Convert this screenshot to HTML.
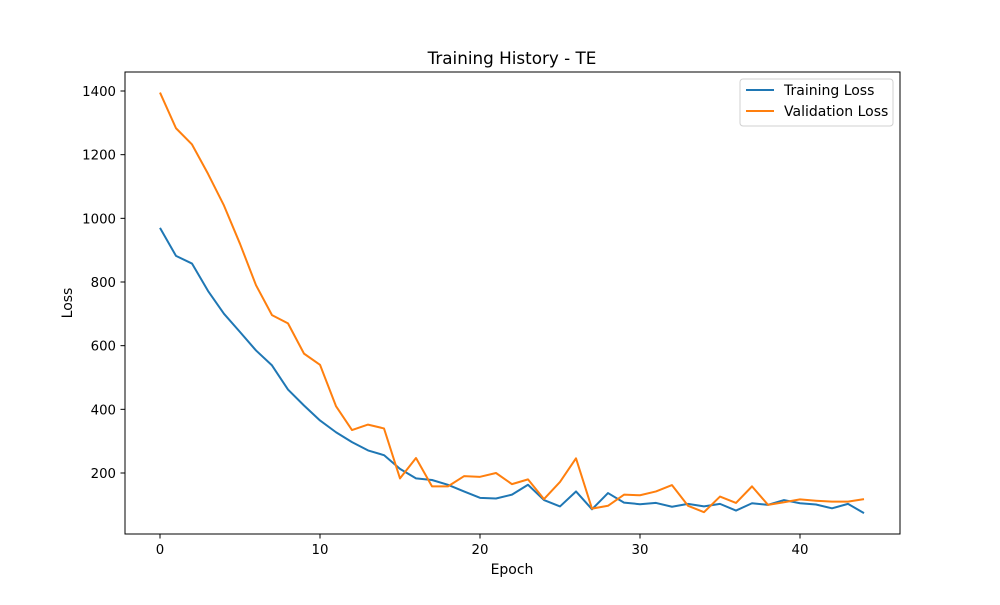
<!DOCTYPE html>
<html><head><meta charset="utf-8"><style>
body{margin:0;background:#fff;}
svg text{font-family:"DejaVu Sans","Liberation Sans",sans-serif;}
</style></head><body>
<svg id="c" width="1000" height="600" xmlns="http://www.w3.org/2000/svg">
<rect width="1000" height="600" fill="#fff"/>
<text x="512" y="64" text-anchor="middle" font-size="16.8">Training History - TE</text>
<text x="512" y="574" text-anchor="middle" font-size="14">Epoch</text>
<text x="72" y="303" text-anchor="middle" font-size="14" transform="rotate(-90 72 303)">Loss</text>
<g id="ticks"></g>
<g id="lines"></g>
<rect x="125" y="72" width="775" height="462" fill="none" stroke="#000" stroke-width="1"/>
<g>
<rect x="740" y="79" width="153" height="47" rx="3" fill="#fff" stroke="#ccc" opacity="0.9"/>
<line x1="746" y1="90" x2="774" y2="90" stroke="#1f77b4" stroke-width="2"/>
<text x="784" y="95" font-size="14">Training Loss</text>
<line x1="746" y1="111" x2="774" y2="111" stroke="#ff7f0e" stroke-width="2"/>
<text x="784" y="116" font-size="14">Validation Loss</text>
</g>
</svg>
<script>
const epochs=[...Array(45).keys()];
const trainLoss=[970,882,858,772,700,643,585,538,462,412,365,328,297,271,256,213,183,178,163,142,122,120,132,163,115,95,142,86,137,107,102,106,94,103,95,103,82,105,100,115,105,101,89,103,74];
const valLoss=[1395,1283,1232,1140,1040,920,790,696,670,575,540,410,335,352,340,183,247,158,158,190,188,200,165,180,118,172,246,88,97,132,130,142,162,97,77,126,106,158,100,108,117,113,110,110,118];
const xTicks=[0,10,20,30,40];
const yTicks=[200,400,600,800,1000,1200,1400];
const xs=v=>160+v*16;
const ys=v=>473-(v-200)*0.31833;
const NS="http://www.w3.org/2000/svg";
const tg=document.getElementById('ticks');
function mk(t,a,p){const e=document.createElementNS(NS,t);for(const k in a)e.setAttribute(k,a[k]);p.appendChild(e);return e;}
xTicks.forEach(t=>{
 const l=mk('line',{x1:xs(t),x2:xs(t),y1:534,y2:538.5,stroke:'#000'},tg);
 
 
 const tx=mk('text',{x:xs(t),y:554,'text-anchor':'middle','font-size':'13.3'},tg);tx.textContent=t;
 
 
});
yTicks.forEach(t=>{
 const l=mk('line',{x1:120.5,x2:125,y1:ys(t),y2:ys(t),stroke:'#000'},tg);
 
 
 const tx=mk('text',{x:116,y:ys(t)+5,'text-anchor':'end','font-size':'13.3'},tg);tx.textContent=t;
 
 
});
const lg=document.getElementById('lines');
function line(data,color,name){
 const p=mk('polyline',{points:data.map((v,i)=>xs(epochs[i])+','+ys(v)).join(' '),fill:'none',stroke:color,'stroke-width':2,'stroke-linejoin':'round'},lg);
 
 
}
line(trainLoss,'#1f77b4','training-loss-line');
line(valLoss,'#ff7f0e','validation-loss-line');
</script>
</body></html>
